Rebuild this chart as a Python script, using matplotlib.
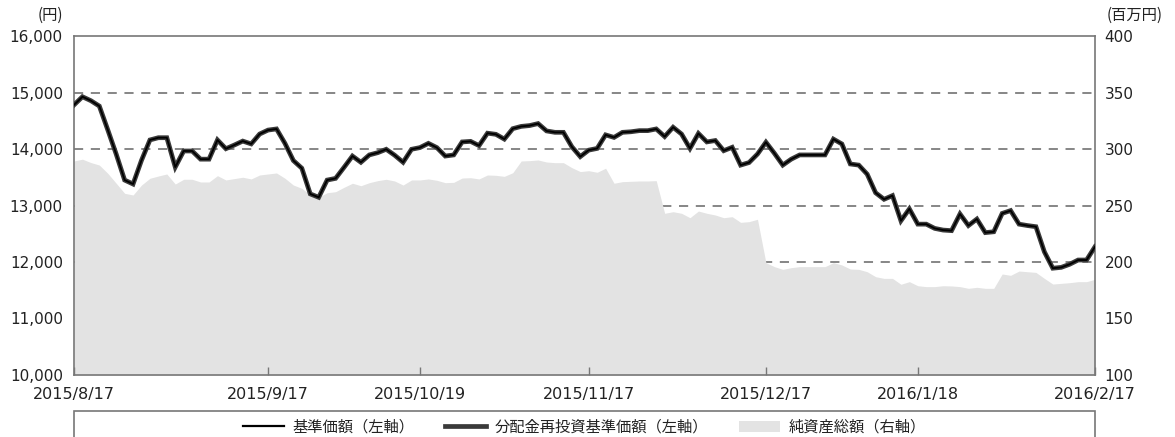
import matplotlib
matplotlib.use("Agg")
import matplotlib.pyplot as plt
from matplotlib.lines import Line2D
from matplotlib.patches import Patch, Rectangle

plt.rcParams['font.family'] = ['DejaVu Sans', 'Noto Sans CJK JP']

# ---- data ----
nav = [14780, 14925, 14855, 14760, 14340, 13910, 13450, 13380, 13800, 14160,
       14200, 14200, 13680, 13965, 13965, 13820, 13820, 14160, 14005, 14070,
       14140, 14090, 14265, 14335, 14355, 14100, 13795, 13660, 13205, 13145,
       13450, 13480, 13675, 13875, 13765, 13895, 13935, 13995, 13890, 13765,
       13995, 14025, 14100, 14025, 13875, 13895, 14125, 14135, 14060, 14280,
       14260, 14175, 14360, 14400, 14415, 14450, 14320, 14295, 14295, 14040,
       13865, 13980, 14010, 14250, 14205, 14295, 14305, 14325, 14325, 14355,
       14220, 14385, 14265, 14010, 14275, 14125, 14150, 13970, 14030, 13715,
       13760, 13910, 14120, 13925, 13715, 13820, 13895, 13895, 13895, 13895,
       14175, 14090, 13735, 13715, 13555, 13225, 13110, 13175, 12730, 12940,
       12670, 12670, 12595, 12565, 12555, 12850, 12645, 12760, 12520, 12535,
       12860, 12910, 12670, 12645, 12625, 12180, 11890, 11905, 11960, 12035,
       12035, 12270]

nav_reinvested = list(nav)

net_assets = [289.4, 291.0, 288.0, 285.8, 278.5, 269.7, 260.8, 259.3, 268.1, 274.1,
              276.1, 277.9, 269.0, 273.2, 273.2, 270.8, 270.8, 276.4, 272.6, 273.8,
              275.0, 273.5, 277.0, 277.9, 278.8, 274.1, 268.1, 265.2, 259.3, 257.3,
              261.3, 262.2, 266.1, 269.7, 267.5, 270.2, 272.0, 273.2, 271.7, 268.1,
              272.6, 272.6, 273.5, 272.3, 270.2, 270.5, 274.3, 274.6, 273.5, 277.0,
              276.7, 275.8, 279.0, 289.4, 289.7, 290.3, 288.5, 287.9, 287.9, 283.5,
              280.0, 280.8, 279.4, 283.0, 269.7, 271.1, 271.4, 271.7, 271.7, 272.0,
              243.1, 244.5, 243.1, 239.2, 245.1, 243.1, 241.6, 239.2, 240.1, 235.1,
              235.7, 237.8, 199.4, 195.9, 193.5, 195.0, 195.9, 195.9, 195.9, 195.9,
              199.4, 197.4, 193.8, 193.5, 191.4, 187.0, 185.5, 185.5, 180.3, 182.6,
              179.0, 178.2, 178.2, 179.0, 178.8, 178.2, 176.7, 177.6, 176.7, 176.7,
              189.4, 188.2, 192.0, 191.4, 190.8, 185.5, 180.5, 181.1, 181.7, 182.6,
              182.6, 184.7]

tick_index = [0, 23, 41, 61, 82, 100, 121]
tick_labels = ['2015/8/17', '2015/9/17', '2015/10/19', '2015/11/17',
               '2015/12/17', '2016/1/18', '2016/2/17']
left_ticks = [10000, 11000, 12000, 13000, 14000, 15000, 16000]
right_ticks = [100, 150, 200, 250, 300, 350, 400]
grid_right = [200, 250, 300, 350]

legend_labels = ['基準価額（左軸）', '分配金再投資基準価額（左軸）', '純資産総額（右軸）']

# ---- figure ----
W, H = 1175, 437
fig = plt.figure(figsize=(W / 100, H / 100), dpi=100)
L, R, T, B = 74, 1095, 36, 375
ax2 = fig.add_axes([L / W, 1 - B / H, (R - L) / W, (B - T) / H])
ax = ax2.twinx()  # placeholder to keep both axes aligned
ax.remove()
ax = fig.add_axes(ax2.get_position(), sharex=ax2)

x = list(range(len(nav)))
spine_col = '#777777'

# right axis: area + grid
ax2.set_ylim(100, 400)
ax2.set_xlim(0, len(nav) - 1)
for g in grid_right:
    ax2.axhline(g, color='#666666', lw=1.1, ls=(0, (6, 5)), zorder=0.5)
ax2.fill_between(x, 100, net_assets, color='#e3e3e3', lw=0, zorder=1)
ax2.yaxis.tick_right()
ax2.yaxis.set_label_position('right')
ax2.set_yticks(right_ticks)
ax2.set_yticklabels([str(v) for v in right_ticks])
ax2.tick_params(axis='y', length=0, pad=7, labelsize=11, colors='#222222')
ax2.set_xticks(tick_index)
ax2.set_xticklabels(tick_labels)
ax2.tick_params(axis='x', direction='in', length=6, width=1, color=spine_col,
                pad=9, labelsize=11.5, labelcolor='#222222')
for s in ax2.spines.values():
    s.set_color(spine_col)
    s.set_linewidth(1.2)

# left axis: lines
ax.patch.set_visible(False)
ax.set_ylim(10000, 16000)
ax.plot(x, nav_reinvested, color='#3a3a3a', lw=3.4, solid_joinstyle='miter', zorder=3)
ax.plot(x, nav, color='#000000', lw=1.3, zorder=4)
ax.set_yticks(left_ticks)
ax.set_yticklabels([f'{v:,}' for v in left_ticks])
ax.tick_params(axis='y', length=0, pad=8, labelsize=11, colors='#222222')
ax.tick_params(axis='x', which='both', bottom=False, labelbottom=False)
for s in ax.spines.values():
    s.set_visible(False)

# unit labels
fig.text(50 / W, 1 - 15 / H, '(円)', ha='center', va='center', fontsize=11,
         family=['Noto Sans CJK JP', 'DejaVu Sans'], color='#222222')
fig.text(1135 / W, 1 - 15 / H, '(百万円)', ha='center', va='center', fontsize=11,
         family=['Noto Sans CJK JP', 'DejaVu Sans'], color='#222222')

# legend box (cut off at bottom like the reference)
fig.patches.append(Rectangle((L / W, -0.1), (R - L) / W, 0.1 + (1 - 411 / H),
                             transform=fig.transFigure, fill=False,
                             edgecolor=spine_col, lw=1.2, clip_on=False))
handles = [Line2D([0], [0], color='#000000', lw=1.6),
           Line2D([0], [0], color='#3a3a3a', lw=3.4),
           Patch(facecolor='#e3e3e3', edgecolor='none')]
fig.legend(handles, legend_labels, loc='center', ncol=3, frameon=False,
           bbox_to_anchor=(584 / W, 1 - 427 / H),
           prop={'family': ['Noto Sans CJK JP', 'DejaVu Sans'], 'size': 11},
           handlelength=2.7, handletextpad=0.55, columnspacing=2.0,
           labelcolor='#222222')

fig.savefig('out.png', dpi=100)
